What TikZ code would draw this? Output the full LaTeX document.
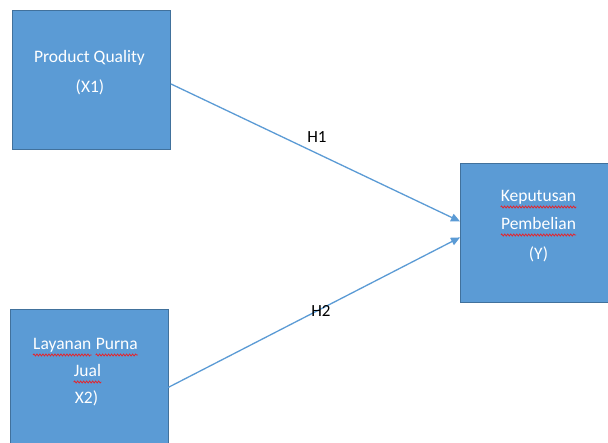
\documentclass[tikz,border=0pt]{standalone}
\usepackage{fontspec}
\setmainfont{Carlito}
\usetikzlibrary{arrows.meta,decorations.pathmorphing}
\definecolor{boxblue}{HTML}{5B9BD5}
\definecolor{boxedge}{HTML}{41719C}
\definecolor{wavered}{HTML}{E3262E}
\begin{document}
\begin{tikzpicture}[x=1pt,y=-1pt,
  box/.style={draw=boxedge,fill=boxblue,line width=0.8pt,inner sep=0pt,anchor=north west},
  txt/.style={text=white,anchor=base,inner sep=0pt,font=\fontsize{17.5}{21}\selectfont},
  hlab/.style={anchor=base,inner sep=0pt,font=\fontsize{17}{20}\selectfont},
  link/.style={draw=boxblue,line width=1.3pt,-{Triangle[length=9pt,width=8pt]}},
  wavy/.style={draw=wavered,line width=0.8pt,decorate,decoration={snake,amplitude=1pt,segment length=3pt}}]
\useasboundingbox (0,0) rectangle (608,443);
\clip (0,0) rectangle (608,443);
\fill[white] (0,0) rectangle (608,443);
% boxes
\node[box,minimum width=158pt,minimum height=139pt] (b1) at (12,10) {};
\node[box,minimum width=152pt,minimum height=139pt] (b2) at (460,163) {};
\node[box,minimum width=158pt,minimum height=142pt] (b3) at (9.5,309) {};
% texts
\node[txt] (t1a) at (89.5,63) {Product Quality};
\node[txt] (t1b) at (90,92.5) {(X1)};
\node[txt] (t2a) at (538.5,202) {Keputusan};
\node[txt] (t2b) at (538.5,230) {Pembelian};
\node[txt] (t2c) at (538.5,259.5) {(Y)};
\node[txt,anchor=base west] (t3a) at (33,350) {Layanan};
\node[txt,anchor=base west] (t3b) at ([xshift=4pt]t3a.base east) {Purna};
\node[txt] (t3c) at (87.5,377) {Jual};
\node[txt] (t3d) at (86.5,404) {X2)};
% spelling marks
\foreach \w in {t2a,t2b,t3a,t3b,t3c}
  \draw[wavy] ([yshift=-5pt]\w.base west) -- ([yshift=-5pt]\w.base east);
% connectors
\draw[link] ([yshift=-4pt]b1.east) -- ([yshift=11.5pt]b2.west);
\draw[link] ([yshift=-7pt]b3.east) -- ([yshift=-4.5pt]b2.west);
\node[hlab] (h1) at (317,143) {H1};
\node[hlab] (h2) at (321,317) {H2};
\end{tikzpicture}
\end{document}
